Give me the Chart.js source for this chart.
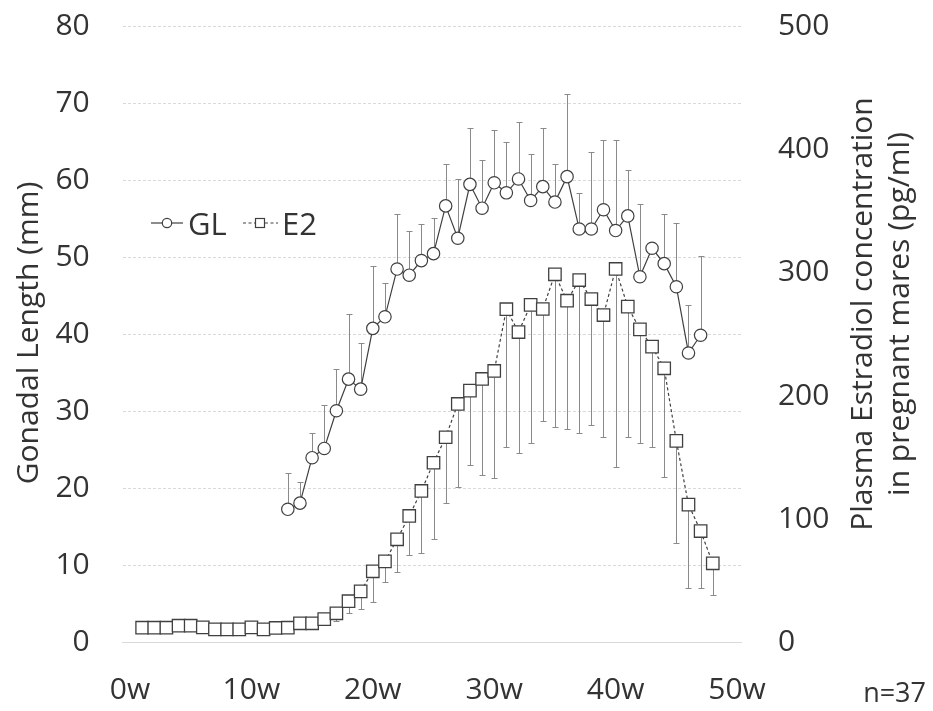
<!DOCTYPE html>
<html>
<head>
<meta charset="utf-8">
<script src="https://cdn.jsdelivr.net/npm/chart.js@4/dist/chart.umd.min.js"></script>
<style>
  html, body { margin: 0; padding: 0; background: #ffffff; }
  #wrap { width: 933px; height: 711px; }
</style>
</head>
<body>
<div id="wrap"><canvas id="chart" width="933" height="711"></canvas></div>
<script>
// Gonadal length (mm), weekly means with upward SD
const glWeeks = [13, 14, 15, 16, 17, 18, 19, 20, 21, 22, 23, 24, 25, 26, 27, 28, 29, 30,
                 31, 32, 33, 34, 35, 36, 37, 38, 39, 40, 41, 42, 43, 44, 45, 46, 47];
const glMean  = [17.3, 18.1, 24.0, 25.2, 30.1, 34.2, 32.9, 40.8, 42.3, 48.5, 47.7, 49.6,
                 50.5, 56.7, 52.5, 59.5, 56.4, 59.7, 58.4, 60.2, 57.4, 59.2, 57.2, 60.5,
                 53.7, 53.7, 56.2, 53.5, 55.4, 47.5, 51.2, 49.2, 46.2, 37.6, 39.9];
const glSd    = [4.7, 2.7, 3.2, 5.6, 5.4, 8.4, 6.0, 8.1, 4.4, 7.1, 5.8, 4.7,
                 4.6, 5.4, 7.7, 7.3, 6.3, 6.9, 6.6, 7.4, 6.0, 7.6, 4.9, 10.7,
                 4.7, 10.0, 9.1, 11.8, 6.0, 9.4, null, 6.4, 8.3, 6.2, 10.3];

// Plasma estradiol (pg/ml), weekly means with downward SD
const e2Weeks = [1, 2, 3, 4, 5, 6, 7, 8, 9, 10, 11, 12, 13, 14, 15, 16, 17, 18, 19, 20, 21, 22, 23, 24,
                 25, 26, 27, 28, 29, 30, 31, 32, 33, 34, 35, 36, 37, 38, 39, 40, 41, 42, 43, 44, 45, 46, 47, 48];
const e2Mean  = [12.0, 12.0, 12.0, 13.6, 13.6, 12.3, 10.7, 10.7, 10.7, 12.3, 10.7, 11.8,
                 12.0, 15.6, 15.6, 19.0, 23.7, 33.5, 41.5, 57.8, 65.8, 83.8, 102.7, 123.0,
                 145.9, 166.6, 193.6, 204.4, 213.9, 220.4, 270.5, 252.0, 274.0, 270.7, 298.9, 277.4,
                 294.2, 278.8, 265.8, 303.2, 272.6, 254.2, 240.1, 222.6, 163.7, 111.9, 90.5, 64.3];
const e2Sd    = [null, null, null, null, null, null, null, null, null, null, null, null,
                 null, null, null, null, 6.2, 9.5, 14.6, 24.7, 16.4, 26.3, 32.0, 50.0,
                 62.0, 53.6, 67.6, 60.4, 77.9, 87.1, 111.6, 98.0, 111.8, 90.7, 123.7, 104.1,
                 123.9, 102.3, 98.8, 160.5, 105.6, 92.0, 81.2, 88.0, 83.2, 67.4, 46.0, 25.7];

const xTickWeeks = [0, 10, 20, 30, 40, 50];
const glTicks = [0, 10, 20, 30, 40, 50, 60, 70, 80];
const e2Ticks = [0, 100, 200, 300, 400, 500];

const INK = '#404040';
const TEXT = '#333333';
const FONT = "'Open Sans', 'Noto Sans', sans-serif";

const glPoints = glWeeks.map((w, i) => ({ x: w, y: glMean[i], err: glSd[i] }));
const e2Points = e2Weeks.map((w, i) => ({ x: w, y: e2Mean[i], err: e2Sd[i] }));

// SD whiskers drawn under the markers, one direction per series
const errorBars = {
  id: 'errorBars',
  beforeDatasetsDraw(chart) {
    const ctx = chart.ctx;
    const xs = chart.scales.x;
    ctx.save();
    ctx.strokeStyle = '#8a8a8a';
    ctx.lineWidth = 1;
    ctx.setLineDash([]);
    chart.data.datasets.forEach(ds => {
      const ys = chart.scales[ds.yAxisID];
      ds.data.forEach(p => {
        if (p.err == null) return;
        const px = Math.round(xs.getPixelForValue(p.x)) + 0.5;
        const y0 = ys.getPixelForValue(p.y);
        const y1 = Math.round(ys.getPixelForValue(p.y + ds.errDir * p.err)) + 0.5;
        ctx.beginPath();
        ctx.moveTo(px, y0);
        ctx.lineTo(px, y1);
        ctx.moveTo(px - 3, y1);
        ctx.lineTo(px + 3, y1);
        ctx.stroke();
      });
    });
    ctx.restore();
  }
};

// Inline legend, axis titles and sample size note
const annotations = {
  id: 'annotations',
  afterDraw(chart) {
    const ctx = chart.ctx;
    ctx.save();
    ctx.fillStyle = TEXT;

    // legend: GL
    ctx.strokeStyle = INK;
    ctx.lineWidth = 1.2;
    ctx.setLineDash([]);
    ctx.beginPath(); ctx.moveTo(151, 223); ctx.lineTo(183, 223); ctx.stroke();
    ctx.beginPath(); ctx.arc(167, 223, 4.7, 0, Math.PI * 2);
    ctx.fillStyle = '#ffffff'; ctx.fill(); ctx.stroke();
    ctx.fillStyle = TEXT;
    ctx.font = '31px ' + FONT;
    ctx.textAlign = 'left';
    ctx.textBaseline = 'alphabetic';
    ctx.fillText('GL', 188, 235);

    // legend: E2
    ctx.setLineDash([3, 2.5]);
    ctx.beginPath(); ctx.moveTo(243, 223); ctx.lineTo(278, 223); ctx.stroke();
    ctx.setLineDash([]);
    ctx.fillStyle = '#ffffff';
    ctx.fillRect(255.5, 218.5, 9, 9);
    ctx.strokeRect(255.5, 218.5, 9, 9);
    ctx.fillStyle = TEXT;
    ctx.fillText('E2', 282, 235);

    // left axis title
    ctx.font = '30px ' + FONT;
    ctx.textAlign = 'center';
    ctx.save();
    ctx.translate(38, 333);
    ctx.rotate(-Math.PI / 2);
    ctx.fillText('Gonadal Length (mm)', 0, 0);
    ctx.restore();

    // right axis title (two lines)
    ctx.save();
    ctx.translate(872, 314);
    ctx.rotate(-Math.PI / 2);
    ctx.fillText('Plasma Estradiol concentration', 0, 0);
    ctx.fillText('in pregnant mares (pg/ml)', 0, 37);
    ctx.restore();

    // sample size
    ctx.font = '27px ' + FONT;
    ctx.textAlign = 'right';
    ctx.fillText('n=37', 926, 702);
    ctx.restore();
  }
};

// fixed plot rectangle: no automatic label padding on the scales
const noPad = s => { s.paddingTop = 0; s.paddingBottom = 0; s.paddingLeft = 0; s.paddingRight = 0; };

new Chart(document.getElementById('chart'), {
  type: 'line',
  data: {
    datasets: [
      {
        label: 'GL',
        data: glPoints,
        yAxisID: 'y',
        errDir: 1,
        borderColor: INK,
        borderWidth: 1.2,
        pointStyle: 'circle',
        pointRadius: 6.2,
        pointBackgroundColor: '#ffffff',
        pointBorderColor: INK,
        pointBorderWidth: 1.2,
        tension: 0
      },
      {
        label: 'E2',
        data: e2Points,
        yAxisID: 'y2',
        errDir: -1,
        borderColor: INK,
        borderWidth: 1.2,
        borderDash: [3, 2.5],
        pointStyle: 'rect',
        pointRadius: 8.8,
        pointBackgroundColor: '#ffffff',
        pointBorderColor: INK,
        pointBorderWidth: 1.3,
        tension: 0
      }
    ]
  },
  options: {
    responsive: false,
    animation: false,
    devicePixelRatio: 1,
    layout: { padding: { top: 26.5, left: 0, right: 0, bottom: 0 } },
    plugins: { legend: { display: false }, tooltip: { enabled: false } },
    scales: {
      x: {
        type: 'linear',
        min: -0.6,
        max: 50.4,
        afterBuildTicks: s => { s.ticks = xTickWeeks.map(v => ({ value: v })); },
        afterFit: s => { s.height = 68.5; noPad(s); },
        grid: { display: false, drawTicks: false },
        border: { display: true, color: '#d9d9d9', width: 1 },
        ticks: {
          callback: v => v + 'w',
          color: TEXT,
          font: { family: FONT, size: 30 },
          padding: 30,
          maxRotation: 0,
          autoSkip: false
        }
      },
      y: {
        position: 'left',
        min: 0,
        max: 80,
        afterBuildTicks: s => { s.ticks = glTicks.map(v => ({ value: v })); },
        afterFit: s => { s.width = 122.7; noPad(s); },
        grid: { color: '#d9d9d9', lineWidth: 1, drawTicks: false },
        border: { display: false, dash: [3, 2] },
        ticks: {
          color: TEXT,
          font: { family: FONT, size: 30 },
          padding: 33
        }
      },
      y2: {
        position: 'right',
        min: 0,
        max: 500,
        afterBuildTicks: s => { s.ticks = e2Ticks.map(v => ({ value: v })); },
        afterFit: s => { s.width = 191.1; noPad(s); },
        grid: { display: false, drawTicks: false, drawOnChartArea: false },
        border: { display: false },
        ticks: {
          color: TEXT,
          font: { family: FONT, size: 30 },
          padding: 36
        }
      }
    }
  },
  plugins: [errorBars, annotations]
});
</script>
</body>
</html>
